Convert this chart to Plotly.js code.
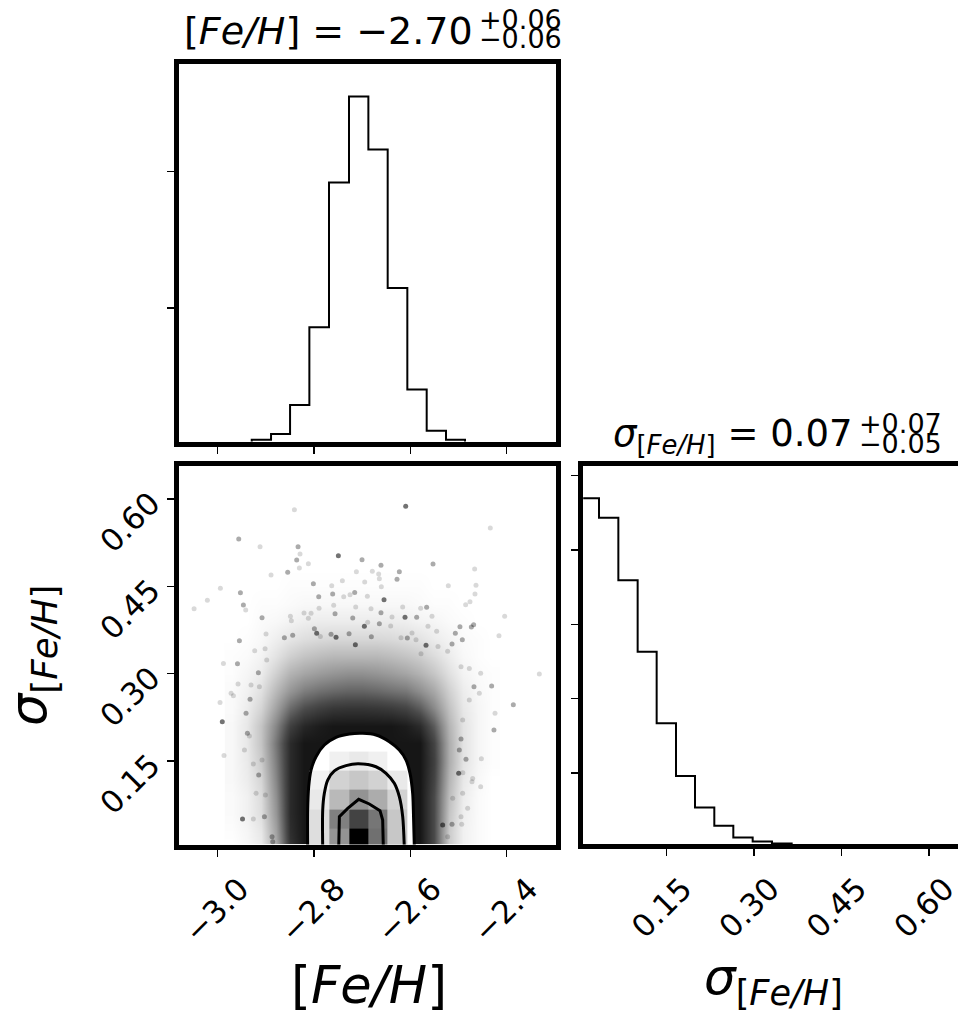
<!DOCTYPE html>
<html><head><meta charset="utf-8">
<script src="https://cdn.plot.ly/plotly-3.0.1.min.js"></script>
<style>html,body{margin:0;padding:0;background:#fff;overflow:hidden}#chart{width:958px;height:1017px}</style>
</head><body><div id="chart"></div>
<script>
// ---------------- data ----------------
const fehTicks = [-3.0, -2.8, -2.6, -2.4];
const sigTicks = [0.15, 0.30, 0.45, 0.60];
const fehHistTicks = [0, 2000, 4000];
const sigHistTicks = [0, 1000, 2000, 3000, 4000, 5000];

// 1D histogram of [Fe/H]
const fehEdges = [-2.9294, -2.8893, -2.8498, -2.8097, -2.7689, -2.7274, -2.6872, -2.6471, -2.6063, -2.5661, -2.5260, -2.4866];
const fehCounts = [63, 146, 574, 1716, 3840, 5104, 4326, 2290, 802, 194, 63];

// 1D histogram of sigma[Fe/H]
const sigEdges = [0.0023, 0.0339, 0.0671, 0.1002, 0.1328, 0.1660, 0.1986, 0.2317, 0.2643, 0.2975, 0.3306, 0.3644];
const sigCounts = [4696, 4432, 3594, 2632, 1670, 962, 537, 291, 134, 81, 54];

// 2D: density of the sample cloud (0 = empty, 1 = saturated)
const cloudX = [-2.97, -2.94, -2.91, -2.88, -2.85, -2.82, -2.79, -2.76, -2.73, -2.70, -2.67, -2.64, -2.61, -2.58, -2.55, -2.52, -2.49, -2.46, -2.43];
const cloudY = [0.00, 0.03, 0.06, 0.09, 0.12, 0.15, 0.18, 0.21, 0.24, 0.27, 0.30, 0.33, 0.36, 0.39, 0.42, 0.45, 0.48];
const cloudZ = [
  [0.00,0.03,0.08,0.35,0.85,1,1,1,1,1,1,1,1,1,0.75,0.22,0.06,0.02,0.00],
  [0.01,0.04,0.10,0.40,0.88,1,1,1,1,1,1,1,1,1,0.75,0.22,0.06,0.02,0.00],
  [0.02,0.06,0.14,0.45,0.90,1,1,1,1,1,1,1,1,1,0.75,0.25,0.07,0.02,0.00],
  [0.02,0.06,0.15,0.48,0.90,1,1,1,1,1,1,1,1,1,0.75,0.28,0.08,0.02,0.00],
  [0.03,0.08,0.18,0.52,0.90,1,1,1,1,1,1,1,1,1,0.78,0.32,0.10,0.03,0.00],
  [0.03,0.09,0.22,0.55,0.90,1,1,1,1,1,1,1,1,1,0.80,0.35,0.12,0.04,0.01],
  [0.03,0.10,0.25,0.58,0.90,1,1,1,1,1,1,1,1,1,0.78,0.35,0.12,0.04,0.01],
  [0.03,0.10,0.25,0.52,0.80,0.92,0.97,1,1,1,1,1,0.97,0.90,0.68,0.32,0.12,0.04,0.01],
  [0.02,0.08,0.18,0.40,0.62,0.74,0.80,0.84,0.85,0.85,0.84,0.82,0.78,0.68,0.50,0.26,0.10,0.04,0.01],
  [0.02,0.06,0.13,0.30,0.45,0.55,0.60,0.63,0.65,0.65,0.63,0.60,0.57,0.48,0.37,0.20,0.08,0.03,0.01],
  [0.01,0.04,0.08,0.20,0.32,0.38,0.42,0.45,0.47,0.47,0.45,0.42,0.38,0.32,0.24,0.13,0.05,0.02,0.01],
  [0.01,0.02,0.05,0.12,0.20,0.25,0.28,0.30,0.30,0.30,0.30,0.28,0.25,0.21,0.15,0.08,0.03,0.01,0.00],
  [0.00,0.01,0.03,0.07,0.11,0.14,0.16,0.17,0.17,0.17,0.17,0.16,0.14,0.12,0.08,0.05,0.02,0.01,0.00],
  [0.00,0.00,0.02,0.03,0.05,0.07,0.08,0.08,0.08,0.08,0.08,0.08,0.07,0.05,0.04,0.02,0.01,0.00,0.00],
  [0.00,0.00,0.01,0.01,0.02,0.03,0.03,0.03,0.03,0.03,0.03,0.03,0.03,0.02,0.01,0.01,0.00,0.00,0.00],
  [0.00,0.00,0.00,0.00,0.01,0.01,0.01,0.01,0.01,0.01,0.01,0.01,0.01,0.01,0.00,0.00,0.00,0.00,0.00],
  [0,0,0,0,0,0,0,0,0,0,0,0,0,0,0,0,0,0,0]
];

// individual samples in the sparse outskirts (faint / medium / dark)
const faintX = [-2.8408,-2.9121,-2.8291,-2.8893,-2.8305,-2.8118,-2.7121,-2.9945,-2.7633,-2.7412,-3.0215,-3.0491,-2.9419,-2.7384,-2.7253,-2.6948,-2.7896,-2.7592,-2.7135,-2.8491,-2.8471,-2.8208,-2.8118,-2.8062,-2.8997,-2.9232,-2.9017,-2.7869,-2.4340,-2.6790,-2.6658,-2.6644,-2.4665,-2.5212,-2.4637,-2.4658,-2.6603,-2.6893,-2.6817,-2.4852,-2.4762,-2.5786,-2.6160,-2.5551,-2.4042,-2.6381,-2.5634,-2.5454,-2.4160,-2.5426,-2.5883,-2.6194,-2.5966,-2.5226,-2.5779,-2.6409,-2.6886,-2.3322,-2.4242,-2.4540,-2.9952,-2.9870,-2.9260,-2.9882,-2.9675,-2.9308,-2.8983,-2.9446,-2.9343,-2.9080,-2.9260,-2.9011,-2.9578,-2.9723,-2.9135,-2.9204,-2.4934,-2.5225,-2.4706,-2.4540,-2.4910,-2.4526,-2.4720,-2.4914,-2.5121,-2.4810,-2.4948,-2.4914,-2.4776,-2.4568,-2.4776,-2.4948];
const faintY = [0.5817,0.5181,0.5055,0.4694,0.4814,0.4889,0.4751,0.4465,0.4511,0.4597,0.4259,0.4116,0.4093,0.4322,0.4356,0.4574,0.4122,0.4173,0.4144,0.3984,0.3910,0.4041,0.3950,0.4036,0.3680,0.3394,0.3429,0.3640,0.5502,0.4757,0.4711,0.4631,0.4797,0.4511,0.4517,0.4368,0.4494,0.4328,0.4116,0.4184,0.4236,0.4122,0.4144,0.3984,0.3984,0.3973,0.3812,0.3726,0.3652,0.3468,0.3583,0.3618,0.3698,0.3383,0.3342,0.3818,0.3881,0.2993,0.2317,0.3005,0.2506,0.1595,0.0502,0.3176,0.2621,0.2804,0.3234,0.1687,0.1928,0.1515,0.1447,0.0914,0.2821,0.2661,0.2775,0.0943,0.0410,0.0198,0.1200,0.1057,0.1298,0.1538,0.1143,0.0943,0.0857,0.0685,0.0542,0.2203,0.2546,0.2661,0.3090,0.3119];
const midX = [-2.9564,-2.8332,-2.8360,-2.7004,-2.8547,-2.9529,-2.8014,-2.9467,-2.7903,-2.7613,-2.7156,-2.7564,-2.9080,-2.9550,-2.8443,-2.8616,-2.7993,-2.7647,-2.7197,-2.7273,-2.6610,-2.6229,-2.6277,-2.5530,-2.6610,-2.5662,-2.5869,-2.6644,-2.4970,-2.5066,-2.4734,-2.4686,-2.4921,-2.5135,-2.6063,-2.6810,-2.3862,-2.4264,-2.4312,-2.9031,-2.9590,-2.9412,-2.9329,-2.9156,-2.9384,-2.9149,-2.8872,-2.8858,-2.5135,-2.4845,-2.4948,-2.4983,-2.4679];
const midY = [0.5313,0.5181,0.4952,0.4958,0.4740,0.4391,0.4545,0.4179,0.4322,0.4368,0.4396,0.4030,0.3961,0.3566,0.3658,0.3618,0.3772,0.3675,0.3955,0.3686,0.4860,0.4751,0.4620,0.4883,0.4047,0.4139,0.3967,0.3858,0.3806,0.3692,0.3801,0.3841,0.3583,0.3509,0.3612,0.3634,0.2466,0.2031,0.2787,0.0542,0.3170,0.2317,0.2558,0.3016,0.1974,0.1258,0.0198,0.0112,0.0410,0.1527,0.1876,0.1687,0.2775];
const darkX = [-2.7495,-2.7945,-2.7543,-2.6955,-2.7142,-2.6097,-2.6547,-2.6111,-2.5675,-2.9905,-2.9485,-2.5329,-2.4997];
const darkY = [0.5026,0.3692,0.3623,0.3812,0.3497,0.5874,0.4270,0.3967,0.3486,0.2174,0.0502,0.0399,0.1287];

// 2D histogram cells inside the outer contour (relative density)
const cellX = [-2.8097, -2.7689, -2.7274, -2.6872, -2.6471, -2.6063];
const cellY = [0.0023, 0.0339, 0.0671, 0.1002, 0.1328, 0.1660];
const cellZ = [
  [0.34, 0.64, 1.00, 0.75, 0.46],
  [0.34, 0.70, 0.85, 0.73, 0.46],
  [0.28, 0.52, 0.64, 0.56, 0.40],
  [0.20, 0.40, 0.46, 0.40, 0.28],
  [null, 0.24, 0.28, 0.24, null]
];

// contour levels (outer, middle, inner)
const outerX = [-2.8132,-2.8132,-2.8111,-2.8062,-2.7959,-2.7786,-2.7544,-2.7267,-2.6990,-2.6713,-2.6436,-2.6229,-2.6090,-2.6007,-2.5952,-2.5938,-2.5917];
const outerY = [0.0,0.0656,0.1057,0.1344,0.1573,0.1773,0.1905,0.1962,0.1974,0.1945,0.1830,0.1687,0.1515,0.1287,0.0943,0.0656,0.0];
const midCX = [-2.7820,-2.7820,-2.7786,-2.7716,-2.7578,-2.7336,-2.7080,-2.6713,-2.6505,-2.6333,-2.6229,-2.6159,-2.6125];
const midCY = [0.0,0.0656,0.0943,0.1172,0.1330,0.1420,0.1450,0.1400,0.1287,0.1115,0.0885,0.0542,0.0];
const innerX = [-2.7488,-2.7474,-2.7301,-2.7073,-2.6852,-2.6630,-2.6575,-2.6561];
const innerY = [0.0,0.0542,0.0685,0.0840,0.0760,0.0645,0.0485,0.0];

// ---------------- layout helpers ----------------
const W = 958, H = 1017;
const px = v => v / W, py = v => 1 - v / H;
const FONT = 'DejaVu Sans, Noto Sans, sans-serif';

function stepXY(edges, counts) {
  return { x: [edges[0]].concat(edges), y: [0].concat(counts, [0]) };
}
const fehStep = stepXY(fehEdges, fehCounts);
const sigStep = stepXY(sigEdges, sigCounts);

const frame = {
  showline: true, linewidth: 5, linecolor: '#000', mirror: true,
  showgrid: false, zeroline: false, ticks: 'outside', ticklen: 7, tickwidth: 1.5,
  tickcolor: '#000', fixedrange: true, ticklabeloverflow: 'allow',
  tickfont: { family: FONT, size: 31, color: '#000' }
};

const traces = [
  // top histogram
  { type: 'scatter', mode: 'lines', x: fehStep.x, y: fehStep.y, xaxis: 'x', yaxis: 'y',
    line: { color: '#000', width: 2, shape: 'hv' }, hoverinfo: 'skip' },
  // right histogram
  { type: 'scatter', mode: 'lines', x: sigStep.x, y: sigStep.y, xaxis: 'x2', yaxis: 'y2',
    line: { color: '#000', width: 2, shape: 'hv' }, hoverinfo: 'skip' },
  // cloud of samples (density)
  { type: 'heatmap', x: cloudX, y: cloudY, z: cloudZ, xaxis: 'x3', yaxis: 'y3',
    zsmooth: 'best', zmin: 0, zmax: 1, showscale: false, hoverinfo: 'skip',
    colorscale: [[0, '#ffffff'], [0.25, '#c4c4c4'], [0.5, '#8a8a8a'], [0.75, '#4a4a4a'], [1, '#161616']] },
  // sparse samples
  { type: 'scatter', mode: 'markers', x: faintX, y: faintY, xaxis: 'x3', yaxis: 'y3',
    marker: { color: '#000', size: 5, opacity: 0.15, line: { width: 0 } }, hoverinfo: 'skip' },
  { type: 'scatter', mode: 'markers', x: midX, y: midY, xaxis: 'x3', yaxis: 'y3',
    marker: { color: '#000', size: 5, opacity: 0.33, line: { width: 0 } }, hoverinfo: 'skip' },
  { type: 'scatter', mode: 'markers', x: darkX, y: darkY, xaxis: 'x3', yaxis: 'y3',
    marker: { color: '#000', size: 5, opacity: 0.55, line: { width: 0 } }, hoverinfo: 'skip' },
  // white fill inside outer contour
  { type: 'scatter', mode: 'lines', x: outerX, y: outerY, xaxis: 'x3', yaxis: 'y3',
    fill: 'toself', fillcolor: '#ffffff', line: { width: 0, shape: 'spline', smoothing: 0.8 }, hoverinfo: 'skip' },
  // 2D histogram cells (overlay subplot)
  { type: 'heatmap', x: cellX, y: cellY, z: cellZ, xaxis: 'x3', yaxis: 'y4',
    zmin: 0, zmax: 1, showscale: false, hoverinfo: 'skip',
    colorscale: [[0, '#ffffff'], [0.25, '#efefef'], [0.5, '#bfbfbf'], [0.75, '#707070'], [1, '#000000']] },
  // contour lines
  { type: 'scatter', mode: 'lines', x: outerX, y: outerY, xaxis: 'x3', yaxis: 'y4',
    line: { color: '#000', width: 3, shape: 'spline', smoothing: 0.8 }, hoverinfo: 'skip' },
  { type: 'scatter', mode: 'lines', x: midCX, y: midCY, xaxis: 'x3', yaxis: 'y4',
    line: { color: '#000', width: 3, shape: 'spline', smoothing: 0.8 }, hoverinfo: 'skip' },
  { type: 'scatter', mode: 'lines', x: innerX, y: innerY, xaxis: 'x3', yaxis: 'y4',
    line: { color: '#000', width: 3 }, hoverinfo: 'skip' }
];

const fehRange = [-3.080, -2.298];
const sig2DRange = [0.0064, 0.6576];

const layout = {
  width: W, height: H, showlegend: false,
  margin: { l: 0, r: 0, t: 0, b: 0 },
  paper_bgcolor: '#fff', plot_bgcolor: 'rgba(0,0,0,0)',
  font: { family: FONT, color: '#000' },
  xaxis: Object.assign({}, frame, { domain: [px(179.2), px(555.8)], range: fehRange, anchor: 'y',
    tickvals: fehTicks, showticklabels: false }),
  yaxis: Object.assign({}, frame, { domain: [py(441.5), py(64.2)], range: [36.7, 5577], anchor: 'x',
    tickvals: fehHistTicks, showticklabels: false }),
  xaxis2: Object.assign({}, frame, { domain: [px(583.2), 1], range: [0.0068, 0.6497], anchor: 'y2',
    tickvals: sigTicks, tickformat: '.2f', tickangle: -45, ticklabelshift: 16, ticklabelstandoff: 2 }),
  yaxis2: Object.assign({}, frame, { domain: [py(844.2), py(465.8)], range: [44, 5132], anchor: 'x2',
    tickvals: sigHistTicks, showticklabels: false }),
  xaxis3: Object.assign({}, frame, { domain: [px(179.2), px(555.8)], range: fehRange, anchor: 'y3',
    tickvals: fehTicks, tickformat: '.1f', tickangle: -45, ticklabelshift: 22, ticklabelstandoff: 2 }),
  yaxis3: Object.assign({}, frame, { domain: [py(844.5), py(465.5)], range: sig2DRange, anchor: 'x3',
    tickvals: sigTicks, tickformat: '.2f', tickangle: -45, ticklabelstandoff: 10 }),
  yaxis4: { overlaying: 'y3', anchor: 'x3', range: sig2DRange, visible: false, fixedrange: true },
  annotations: [
    { text: '[<i>Fe/H</i>] = −2.70', x: px(475), y: py(31), xref: 'paper', yref: 'paper',
      xanchor: 'right', yanchor: 'middle', showarrow: false, font: { family: FONT, size: 38 } },
    { text: '+0.06', x: px(477), y: py(19), xref: 'paper', yref: 'paper',
      xanchor: 'left', yanchor: 'middle', showarrow: false, font: { family: FONT, size: 27 } },
    { text: '−0.06', x: px(477), y: py(39), xref: 'paper', yref: 'paper',
      xanchor: 'left', yanchor: 'middle', showarrow: false, font: { family: FONT, size: 27 } },
    { text: '<i>σ</i><sub>[<i>Fe/H</i>]</sub> = 0.07', x: px(855), y: py(436), xref: 'paper', yref: 'paper',
      xanchor: 'right', yanchor: 'middle', showarrow: false, font: { family: FONT, size: 37 } },
    { text: '+0.07', x: px(857), y: py(423), xref: 'paper', yref: 'paper',
      xanchor: 'left', yanchor: 'middle', showarrow: false, font: { family: FONT, size: 27 } },
    { text: '−0.05', x: px(857), y: py(444), xref: 'paper', yref: 'paper',
      xanchor: 'left', yanchor: 'middle', showarrow: false, font: { family: FONT, size: 27 } },
    { text: '[<i>Fe/H</i>]', x: px(369), y: py(985), xref: 'paper', yref: 'paper',
      xanchor: 'center', yanchor: 'middle', showarrow: false, font: { family: FONT, size: 51 } },
    { text: '<i>σ</i><sub>[<i>Fe/H</i>]</sub>', x: px(773), y: py(980), xref: 'paper', yref: 'paper',
      xanchor: 'center', yanchor: 'middle', showarrow: false, font: { family: FONT, size: 50 } },
    { text: '<i>σ</i><sub>[<i>Fe/H</i>]</sub>', x: px(32), y: py(655), xref: 'paper', yref: 'paper',
      xanchor: 'center', yanchor: 'middle', textangle: -90, showarrow: false, font: { family: FONT, size: 51 } }
  ]
};

Plotly.newPlot('chart', traces, layout, { staticPlot: true, displayModeBar: false });
</script>
</body></html>
